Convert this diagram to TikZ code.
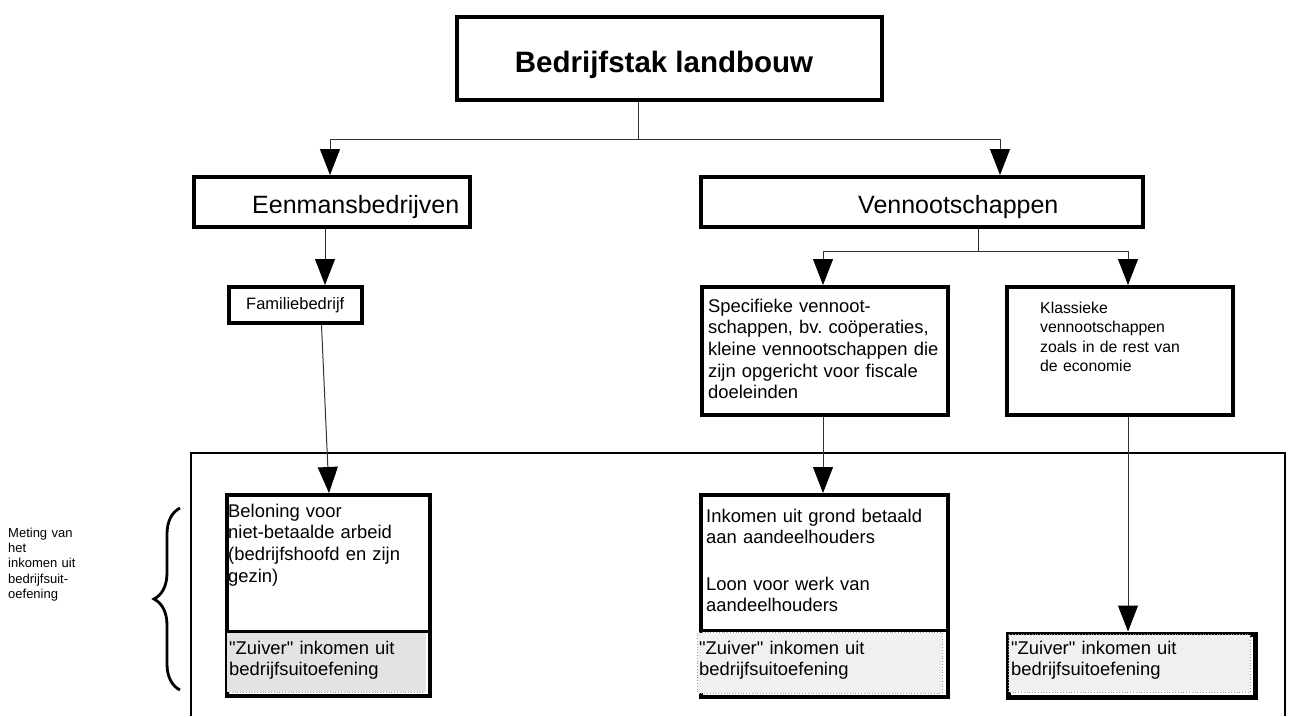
\documentclass[tikz,border=0pt]{standalone}
\usepackage{fontspec}
\setmainfont{Liberation Sans}[Ligatures=TeXOff]
\usetikzlibrary{arrows.meta,decorations.pathreplacing,calc}
\definecolor{shadeA}{HTML}{E3E3E3}
\definecolor{shadeB}{HTML}{F0F0F0}
\definecolor{lineg}{HTML}{333333}
\definecolor{dotg}{HTML}{999999}
\frenchspacing
\begin{document}
\begin{tikzpicture}[x=1pt,y=-1pt,
  box/.style={draw=black,line width=4pt,inner sep=0pt,anchor=north west,fill=white},
  conn/.style={draw=lineg,line width=1pt},
  arr/.style={conn,-{Triangle[width=20pt,length=26pt,color=black]}},
  body/.style={anchor=base west,inner sep=0pt,align=left,text width=#1,
    font=\fontsize{18.4}{21.7}\selectfont},
  body/.default=240pt,
  small/.style={anchor=base west,inner sep=0pt,align=left,text width=#1,
    font=\fontsize{15.8}{19.5}\selectfont},
  small/.default=200pt,
  big/.style={anchor=base west,inner sep=0pt,font=\fontsize{25}{30}\selectfont},
  shade/.style={draw=dotg,dotted,line width=0.8pt}
]
\fill[white] (0,0) rectangle (1295,716);
\useasboundingbox (0,0) rectangle (1295,716);

% frame
\draw[line width=2pt] (191,716) -- (191,453) -- (1285,453) -- (1285,716);

% boxes
\node[box,minimum width=425pt,minimum height=83pt] (top) at (455,15) {};
\node[box,minimum width=276pt,minimum height=50pt] (eenm) at (192,175) {};
\node[box,minimum width=442pt,minimum height=50pt] (venn) at (699,175) {};
\node[box,minimum width=133pt,minimum height=36pt] (fam) at (227,285) {};
\node[box,minimum width=246pt,minimum height=128pt] (spec) at (700,285) {};
\node[box,minimum width=226pt,minimum height=128pt] (klas) at (1005,285) {};
\node[box,minimum width=203pt,minimum height=201pt] (bel) at (225,493) {};
\node[box,minimum width=247pt,minimum height=202pt] (ink) at (699,493) {};
\node[box,line width=5pt,minimum width=247pt,minimum height=63pt] (zk) at (1005.5,631.5) {};

% shaded parts
\fill[shadeA] (227,633) rectangle (426,692);
\draw[line width=3pt] (bel.west |- 0,631) -- (bel.east |- 0,631);
\draw[dotg,dotted,line width=0.8pt] (229,692) -- (425,692);
\draw[black,line width=3pt] (699,630) -- (946,630);
\filldraw[shade,fill=shadeB] (697.5,632.5) rectangle (942,693);
\filldraw[shade,fill=shadeB] (1008.5,634.5) rectangle (1250,692);

% texts
\node[anchor=base,inner sep=0pt,font=\bfseries\fontsize{29.5}{34}\selectfont] (ttop) at (664,72) {Bedrijfstak landbouw};
\node[big] (teenm) at (252,213) {Eenmansbedrijven};
\node[big] (tvenn) at (858,213) {Vennootschappen};
\node[anchor=base west,inner sep=0pt,font=\fontsize{16.5}{19}\selectfont] (tfam) at (246,309) {Familiebedrijf};
\node[body] (tspec) at (708,312) {Specifieke vennoot-\\schappen, bv. coöperaties,\\kleine vennootschappen die\\zijn opgericht voor fiscale\\doeleinden};
\node[small] (tklas) at (1040,313) {Klassieke\\vennootschappen\\zoals in de rest van\\de economie};
\node[body=200pt] (tbel) at (228,517) {Beloning voor\\niet-betaalde arbeid\\(bedrijfshoofd en zijn\\gezin)};
\node[body=200pt] (zbel) at (229,654) {"Zuiver" inkomen uit\\bedrijfsuitoefening};
\node[body] (tink1) at (706,522) {Inkomen uit grond betaald\\aan aandeelhouders};
\node[body] (tink2) at (706,590) {Loon voor werk van\\aandeelhouders};
\node[body] (zink) at (699,654) {"Zuiver" inkomen uit\\bedrijfsuitoefening};
\node[body] (zkt) at (1011,654) {"Zuiver" inkomen uit\\bedrijfsuitoefening};
\node[anchor=base west,inner sep=0pt,align=left,text width=90pt,
  font=\fontsize{13}{15.4}\selectfont] (tmet) at (8,537) {Meting van\\het\\inkomen uit\\bedrijfsuit-\\oefening};

% brace
\draw[decorate,decoration={brace,amplitude=26pt},line width=2.8pt] (180,690) -- (180,508);

% connectors
\coordinate (jt) at (638,139);
\coordinate (jl) at (330,139);
\coordinate (jr) at (1000,139);
\draw[conn] (top.south -| jt) -- (jt);
\draw[conn] (jl) -- (jr);
\draw[arr] (jl) -- (jl |- eenm.north);
\draw[arr] (jr) -- (jr |- venn.north);

\coordinate (xe) at (325,0);
\draw[arr] (eenm.south -| xe) -- (fam.north -| xe);

\coordinate (jv) at (978,251);
\coordinate (jvl) at (823,251);
\coordinate (jvr) at (1128,251);
\draw[conn] (venn.south -| jv) -- (jv);
\draw[conn] (jvl) -- (jvr);
\draw[arr] (jvl) -- (jvl |- spec.north);
\draw[arr] (jvr) -- (jvr |- klas.north);

\coordinate (xb) at (329,0);
\draw[arr] ([xshift=26pt]fam.south) -- (bel.north -| xb);
\draw[arr] (spec.south -| jvl) -- (ink.north -| jvl);
\draw[arr] (klas.south -| jvr) -- (zk.north -| jvr);
\end{tikzpicture}
\end{document}
